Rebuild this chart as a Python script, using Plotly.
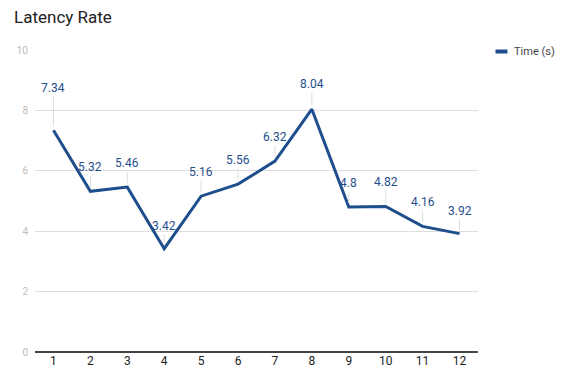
import plotly.graph_objects as go

categories = [str(i) for i in range(1, 13)]
times = [7.34, 5.32, 5.46, 3.42, 5.16, 5.56, 6.32, 8.04, 4.8, 4.82, 4.16, 3.92]
label_offsets = [-42, -24, -24, -23, -24, -24, -24, -25, -24, -24, -24, -23]
series_name = "Time (s)"
title_text = "Latency Rate"

blue = "#1f4e8c"

fig = go.Figure()
fig.add_trace(go.Scatter(
    x=categories, y=times, mode="lines", name=series_name,
    line=dict(color=blue, width=3), showlegend=False,
))

for i, (v, off) in enumerate(zip(times, label_offsets)):
    fig.add_annotation(
        x=i, y=v, text=str(v), showarrow=True, arrowhead=0, arrowwidth=1,
        arrowcolor="#dddddd", ax=0, ay=off, standoff=4,
        font=dict(family="Roboto", size=12, color=blue),
    )

# legend
fig.add_shape(type="line", xref="paper", yref="paper",
              x0=1.0395, x1=1.0665, y0=0.995, y1=0.995,
              line=dict(color=blue, width=4))
fig.add_annotation(xref="paper", yref="paper", x=1.076, y=0.995,
                   text=series_name, showarrow=False, xanchor="left",
                   yanchor="middle",
                   font=dict(family="Roboto", size=11, color="#444444"))

fig.update_layout(
    width=563, height=379,
    margin=dict(l=35, r=85, t=50, b=27),
    paper_bgcolor="white", plot_bgcolor="white",
    title=dict(text=title_text, x=0.025, xanchor="left", y=0.955, yanchor="middle",
               font=dict(family="Roboto", size=17, color="#222222")),
    font=dict(family="Roboto"),
)
fig.update_xaxes(
    type="category", range=[-0.5, 11.5], showgrid=False,
    showline=False, ticks="",
    tickfont=dict(family="Roboto", size=12, color="#222222"),
)
fig.update_yaxes(
    range=[0, 10], tickvals=[0, 2, 4, 6, 8, 10], showgrid=True,
    gridcolor="#dddddd", gridwidth=1, zeroline=True, zerolinecolor="#444444",
    zerolinewidth=1.5, tickfont=dict(family="Roboto", size=10, color="#bbbbbb"),
    ticklabelstandoff=6,
)

fig.write_html("out.html")
